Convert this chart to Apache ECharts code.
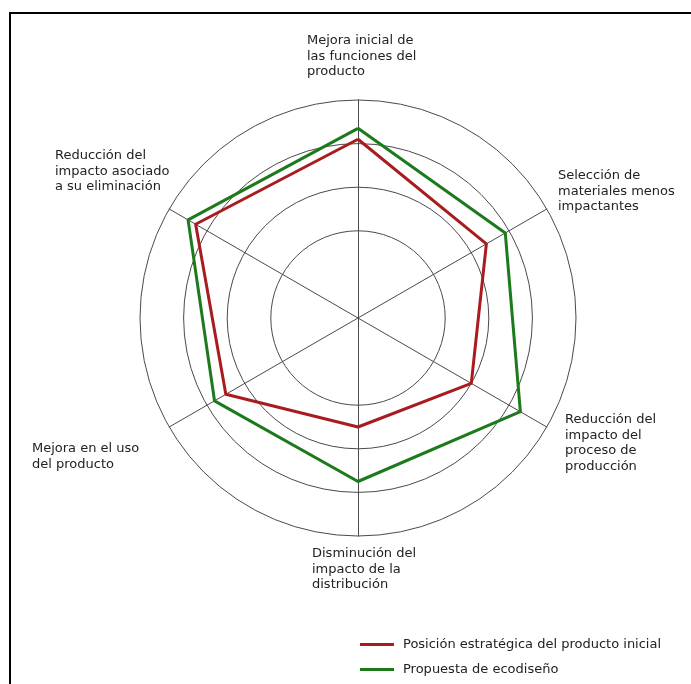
<!DOCTYPE html>
<html>
<head>
<meta charset="utf-8">
<script src="https://cdn.jsdelivr.net/npm/echarts@6/dist/echarts.min.js"></script>
<style>
html, body { margin: 0; padding: 0; background: #fff; }
#chartRadar { width: 691px; height: 684px; }
</style>
</head>
<body>
<div id="chartRadar"></div>
<script>
// ejes en sentido antihorario desde arriba
var categories = [
    'Mejora inicial de\nlas funciones del\nproducto',
    'Reducción del\nimpacto asociado\na su eliminación',
    'Mejora en el uso\ndel producto',
    'Disminución del\nimpacto de la\ndistribución',
    'Reducción del\nimpacto del\nproceso de\nproducción',
    'Selección de\nmateriales menos\nimpactantes'
];
var seriesNames = ['Posición estratégica del producto inicial', 'Propuesta de ecodiseño'];
var inicialData = [4.1, 4.3, 3.5, 2.5, 3.0, 3.4];
var propuestaData = [4.35, 4.5, 3.8, 3.75, 4.3, 3.9];
var axisMax = 5;

// posiciones de las etiquetas (esquina sup. izq.)
var labelPos = [[307, 33], [55, 148], [32, 441], [312, 546], [565, 412], [558, 168]];

var myChart = echarts.init(document.getElementById('chartRadar'));
var gridColor = '#4a4a4a';
var fontFam = '"DejaVu Sans", Arial, sans-serif';

var labels = categories.map(function (c, i) {
    return {
        type: 'text',
        x: labelPos[i][0],
        y: labelPos[i][1],
        style: {
            text: c,
            fill: '#222',
            font: '13px ' + fontFam,
            lineHeight: 15.5
        }
    };
});

var option = {
    backgroundColor: '#fff',
    legend: {
        orient: 'vertical',
        left: 355,
        top: 633,
        itemWidth: 34,
        itemHeight: 3,
        itemGap: 12,
        icon: 'rect',
        data: seriesNames,
        textStyle: {
            color: '#222',
            fontSize: 13,
            fontFamily: fontFam,
            padding: [0, 0, 0, 4]
        }
    },
    radar: {
        center: [358, 318],
        radius: 218,
        startAngle: 90,
        shape: 'circle',
        splitNumber: 5,
        indicator: categories.map(function (c) {
            return { name: '', max: axisMax, min: 0 };
        }),
        axisName: { show: false },
        axisLine: { lineStyle: { color: gridColor, width: 1 } },
        axisTick: { show: false },
        axisLabel: { show: false },
        splitArea: { show: false },
        splitLine: {
            lineStyle: {
                color: [gridColor, 'transparent', gridColor, gridColor, gridColor, gridColor],
                width: 1
            }
        }
    },
    graphic: [
        {
            type: 'polyline',
            shape: { points: [[10, 700], [10, 13], [700, 13]] },
            style: { stroke: '#000', lineWidth: 2, fill: null }
        }
    ].concat(labels),
    series: [{
        type: 'radar',
        symbol: 'none',
        data: [
            {
                name: seriesNames[0],
                value: inicialData,
                lineStyle: { color: '#a81c1f', width: 3 },
                itemStyle: { color: '#a81c1f' }
            },
            {
                name: seriesNames[1],
                value: propuestaData,
                lineStyle: { color: '#1c7a1c', width: 3 },
                itemStyle: { color: '#1c7a1c' }
            }
        ]
    }]
};
myChart.setOption(option);
</script>
</body>
</html>
